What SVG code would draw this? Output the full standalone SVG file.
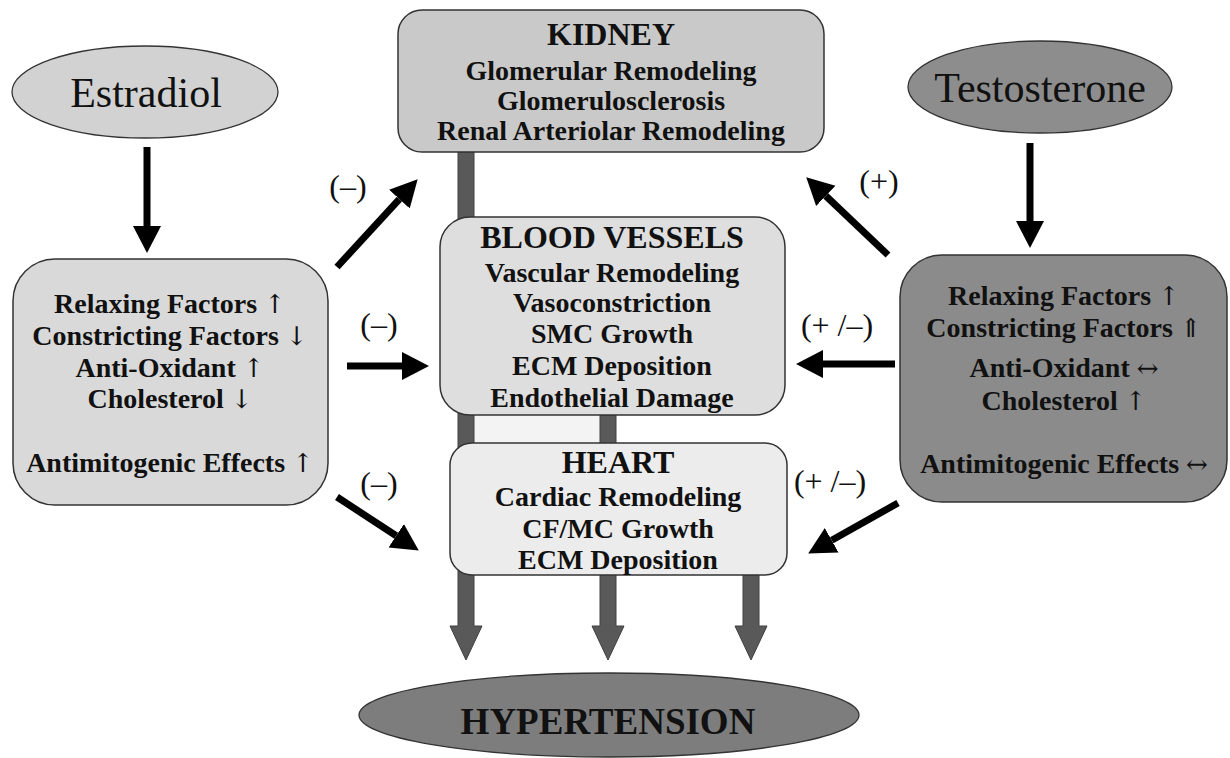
<svg xmlns="http://www.w3.org/2000/svg" width="1230" height="758" viewBox="0 0 1230 758">
<style>
text{font-family:"Liberation Serif","Times New Roman",serif;fill:#111;text-anchor:middle}
.b{font-weight:bold;font-size:28px}
.t{font-weight:bold;font-size:32px}
.hor{font-size:42px}
.lab{font-size:32px}
.ar{font-weight:normal;font-size:26px;font-family:"DejaVu Serif","Liberation Serif",serif;fill:#111}
.box{stroke:#333;stroke-width:1.5}
.blk{stroke:#000;stroke-width:7;fill:none;marker-end:url(#ah)}
.bar{fill:#595959;stroke:#404040;stroke-width:1}
</style>
<defs>
<marker id="ah" markerUnits="userSpaceOnUse" markerWidth="28" markerHeight="30" refX="0" refY="14" orient="auto" viewBox="0 0 28 28">
<path d="M0,0 L27,14 L0,28 z" fill="#000"/>
</marker>
</defs>

<g id="bars">
<rect x="466" y="410" width="142" height="40" fill="#f3f3f3" stroke="#b5b5b5" stroke-width="1"/>
<path class="bar" d="M458,152 H474 V626 H482 L466,660 L450,626 H458 Z"/>
<path class="bar" d="M600,415 H616 V626 H624 L608,660 L592,626 H600 Z"/>
<path class="bar" d="M743,575 H759 V626 H767 L751,660 L735,626 H743 Z"/>
</g>

<g id="estradiol">
<ellipse cx="145" cy="92" rx="133" ry="46" fill="#d2d2d2" stroke="#333" stroke-width="1.3"/>
<text class="hor" x="146" y="107">Estradiol</text>
</g>

<g id="testosterone">
<ellipse cx="1040" cy="87" rx="132" ry="46" fill="#8d8d8d" stroke="#333" stroke-width="1.3"/>
<text class="hor" x="1040" y="102">Testosterone</text>
</g>

<g id="kidney">
<rect class="box" x="398" y="10" width="426" height="142" rx="24" fill="#c9c9c9"/>
<text class="t" x="611" y="45">KIDNEY</text>
<text class="b" x="611" y="80">Glomerular Remodeling</text>
<text class="b" x="611" y="110">Glomerulosclerosis</text>
<text class="b" x="611" y="140">Renal Arteriolar Remodeling</text>
</g>

<g id="blood-vessels">
<rect class="box" x="440" y="217" width="345" height="198" rx="30" fill="#dedede"/>
<text class="t" x="612" y="248">BLOOD VESSELS</text>
<text class="b" x="612" y="282">Vascular Remodeling</text>
<text class="b" x="612" y="312">Vasoconstriction</text>
<text class="b" x="612" y="343">SMC Growth</text>
<text class="b" x="612" y="375">ECM Deposition</text>
<text class="b" x="612" y="407">Endothelial Damage</text>
</g>

<g id="heart">
<rect class="box" x="450" y="443" width="337" height="132" rx="22" fill="#ececec"/>
<text class="t" x="618" y="473">HEART</text>
<text class="b" x="618" y="506">Cardiac Remodeling</text>
<text class="b" x="618" y="538">CF/MC Growth</text>
<text class="b" x="618" y="569">ECM Deposition</text>
</g>

<g id="estradiol-effects">
<rect class="box" x="13" y="259" width="315" height="246" rx="42" fill="#d9d9d9"/>
<text class="b" x="170" y="313">Relaxing Factors <tspan class="ar">↑</tspan></text>
<text class="b" x="170" y="345">Constricting Factors <tspan class="ar">↓</tspan></text>
<text class="b" x="170" y="377">Anti-Oxidant <tspan class="ar">↑</tspan></text>
<text class="b" x="170" y="408">Cholesterol <tspan class="ar">↓</tspan></text>
<text class="b" x="170" y="472">Antimitogenic Effects <tspan class="ar">↑</tspan></text>
</g>

<g id="testosterone-effects">
<rect class="box" x="900" y="255" width="327" height="247" rx="42" fill="#8b8b8b"/>
<text class="b" x="1064" y="305">Relaxing Factors <tspan class="ar">↑</tspan></text>
<text class="b" x="1064" y="337">Constricting Factors <tspan class="ar">⇑</tspan></text>
<text class="b" x="1064" y="377">Anti-Oxidant <tspan class="ar">↔</tspan></text>
<text class="b" x="1064" y="410">Cholesterol <tspan class="ar">↑</tspan></text>
<text class="b" x="1064" y="473">Antimitogenic Effects <tspan class="ar">↔</tspan></text>
</g>

<g id="hypertension">
<ellipse cx="609" cy="715" rx="250" ry="42" fill="#7d7d7d" stroke="#333" stroke-width="1.3"/>
<text x="608" y="734" style="font-weight:bold;font-size:37px">HYPERTENSION</text>
</g>

<g id="connectors">
<line class="blk" x1="147" y1="147" x2="147" y2="226"/>
<line class="blk" x1="1030" y1="143" x2="1030" y2="221"/>
<line class="blk" x1="337" y1="267" x2="399.4" y2="199.1"/>
<line class="blk" x1="347" y1="366" x2="402" y2="366"/>
<line class="blk" x1="337" y1="497" x2="396.2" y2="535.8"/>
<line class="blk" x1="888" y1="255" x2="825.8" y2="195.9"/>
<line class="blk" x1="895" y1="364" x2="823" y2="364"/>
<line class="blk" x1="898" y1="503" x2="831.7" y2="540.3"/>
<text class="lab" x="348" y="197">(–)</text>
<text class="lab" x="379" y="335">(–)</text>
<text class="lab" x="379" y="494">(–)</text>
<text class="lab" x="879" y="192">(+)</text>
<text class="lab" x="837" y="336">(+ /–)</text>
<text class="lab" x="830" y="492">(+ /–)</text>
</g>
</svg>
